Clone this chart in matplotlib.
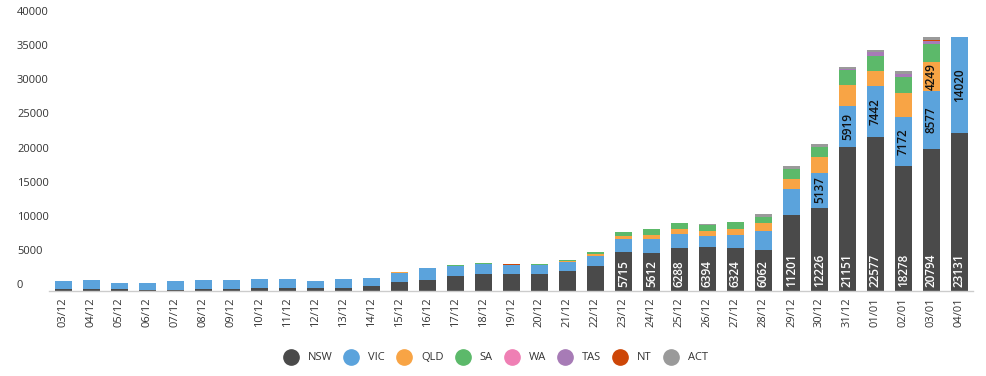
import matplotlib.pyplot as plt
from matplotlib.lines import Line2D
import numpy as np

plt.rcParams['font.family'] = ['Open Sans', 'DejaVu Sans']

dates = ['03/12', '04/12', '05/12', '06/12', '07/12', '08/12', '09/12', '10/12',
         '11/12', '12/12', '13/12', '14/12', '15/12', '16/12', '17/12', '18/12',
         '19/12', '20/12', '21/12', '22/12', '23/12', '24/12', '25/12', '26/12',
         '27/12', '28/12', '29/12', '30/12', '31/12', '01/01', '02/01', '03/01',
         '04/01']

nsw = [340, 330, 260, 200, 160, 340, 340, 480, 500, 480, 440, 760, 1320, 1610,
       2200, 2490, 2490, 2490, 2930, 3660, 5715, 5612, 6288, 6394, 6324, 6062,
       11201, 12226, 21151, 22577, 18278, 20794, 23131]
vic = [1120, 1280, 910, 970, 1300, 1270, 1270, 1280, 1260, 980, 1320, 1170, 1320,
       1760, 1510, 1510, 1270, 1270, 1320, 1460, 1900, 2050, 2050, 1610, 1900,
       2780, 3800, 5137, 5919, 7442, 7172, 8577, 14020]
qld = [0, 0, 0, 0, 0, 0, 0, 0, 0, 0, 0, 0, 150, 0, 0, 0, 100, 0, 150, 290, 440,
       590, 730, 730, 880, 1170, 1460, 2250, 3080, 2200, 3510, 4249, 0]
sa = [0, 0, 0, 0, 0, 0, 0, 0, 0, 0, 0, 0, 0, 0, 100, 100, 0, 190, 140, 290, 590,
      880, 880, 880, 1020, 880, 1460, 1460, 2200, 2200, 2340, 2640, 0]
wa = [0] * 33
tas = [0, 0, 0, 0, 0, 0, 0, 0, 0, 0, 0, 0, 0, 0, 0, 0, 0, 0, 0, 0, 0, 0, 0, 0,
       0, 0, 0, 0, 140, 590, 440, 340, 0]
nt = [0, 0, 0, 0, 0, 0, 0, 0, 0, 0, 0, 0, 0, 0, 0, 0, 90, 0, 0, 0, 0, 0, 0, 0,
      0, 0, 0, 0, 100, 0, 0, 250, 0]
act = [0, 0, 0, 0, 0, 0, 0, 0, 0, 0, 0, 0, 0, 0, 0, 0, 0, 0, 0, 0, 0, 0, 0, 150,
       0, 440, 440, 440, 300, 290, 440, 390, 0]

states = ['NSW', 'VIC', 'QLD', 'SA', 'WA', 'TAS', 'NT', 'ACT']
series = [nsw, vic, qld, sa, wa, tas, nt, act]
colors = ['#4a4a4a', '#5ba3dc', '#f8a445', '#5cb96a', '#ef7fb4', '#a77bb6',
          '#cd4607', '#9a9a9a']

fig = plt.figure(figsize=(9.86, 3.76), dpi=100)
ax = fig.add_axes([0.05, 0.2261, 0.9373, 0.7259])

x = np.arange(len(dates))
bottom = np.zeros(len(dates))
containers = []
for name, vals, col in zip(states, series, colors):
    c = ax.bar(x, vals, width=0.607, bottom=bottom, color=col, label=name)
    containers.append(c)
    bottom += np.array(vals)

# NSW labels at the base of the bar
for xi, v in zip(x, nsw):
    if v >= 4000:
        ax.annotate(str(v), xy=(xi, 0), xytext=(0, 3), textcoords='offset points',
                    rotation=90, ha='center', va='bottom', color='white',
                    fontsize=8.5, fontweight='semibold')

# VIC and QLD labels centred in segment
for c, vals in [(containers[1], vic), (containers[2], qld)]:
    labs = [str(v) if v >= 4000 else '' for v in vals]
    ax.bar_label(c, labels=labs, label_type='center', rotation=90,
                 color='#111111', fontsize=8.5, fontweight='semibold')

ax.set_xlim(-0.5, len(dates) - 0.5)
ax.set_ylim(0, 40000)
ax.set_xticks(x)
ax.set_xticklabels(dates, rotation=90, fontsize=8, color='#333333')
ax.set_yticks(np.arange(0, 40001, 5000))
ax.tick_params(axis='x', length=0, pad=4.5)
ax.tick_params(axis='y', length=0, pad=23.3, labelsize=8, labelcolor='#333333')
for lab in ax.get_yticklabels():
    lab.set_horizontalalignment('left')
    lab.set_verticalalignment('bottom')

for s in ['top', 'right', 'left']:
    ax.spines[s].set_visible(False)
ax.spines['bottom'].set_color('#cccccc')
ax.spines['bottom'].set_linewidth(1)

handles = [Line2D([], [], marker='o', linestyle='none', markersize=11,
                  markerfacecolor=col, markeredgecolor=col) for col in colors]
fig.legend(handles, states, loc='center', bbox_to_anchor=(0.502, 0.048),
           ncol=8, frameon=False, fontsize=8, handlelength=1.5,
           handletextpad=0.78, columnspacing=0.96, labelcolor='#333333')

fig.savefig('out.png', dpi=100)
